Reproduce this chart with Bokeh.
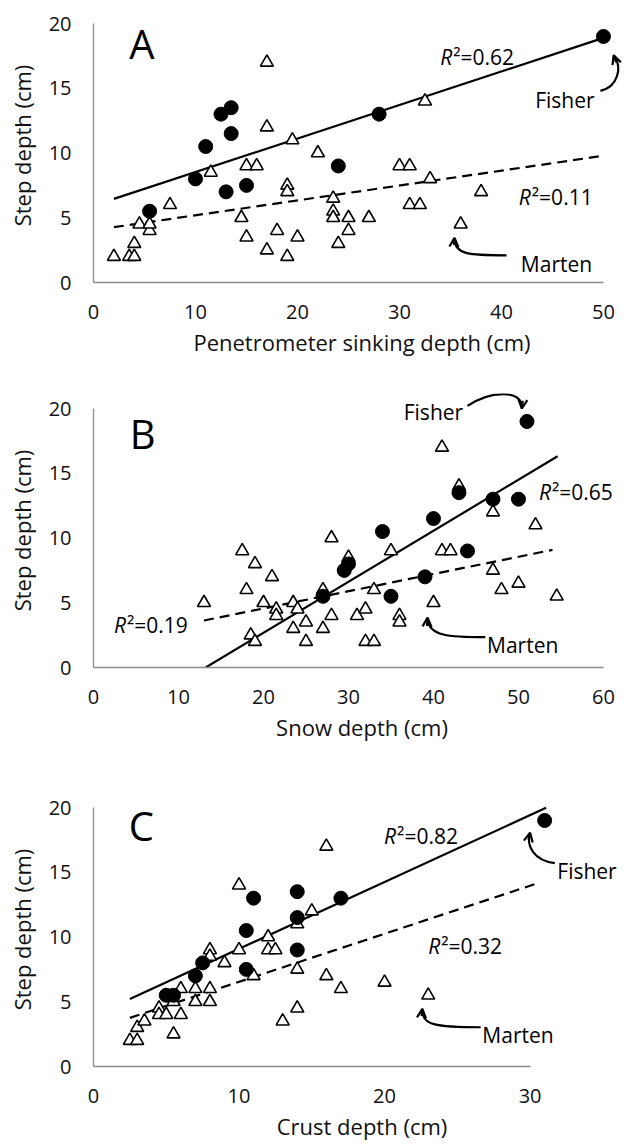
from bokeh.plotting import figure
from bokeh.layouts import column
from bokeh.models import Range1d, FixedTicker, Label, Arrow, OpenHead
from bokeh.embed import file_html
from bokeh.resources import INLINE

FONT = "Open Sans"

# ---------------- Panel A: penetrometer sinking depth ----------------
a_marten_x = [2, 3.5, 4, 4, 4.5, 5.5, 5.5, 7.5, 11.5, 14.5, 15, 15, 16, 17, 17, 17, 18, 19, 19, 19,
              19.5, 20, 22, 23.5, 23.5, 23.5, 24, 25, 25, 27, 30, 31, 31, 32, 32.5, 33, 36, 38]
a_marten_y = [2, 2, 2, 3, 4.5, 4, 4.5, 6, 8.5, 5, 3.5, 9, 9, 17, 12, 2.5, 4, 7.5, 7, 2,
              11, 3.5, 10, 6.5, 5.5, 5, 3, 5, 4, 5, 9, 9, 6, 6, 14, 8, 4.5, 7]
a_fisher_x = [5.5, 10, 11, 12.5, 13.5, 13.5, 13, 15, 24, 28, 50]
a_fisher_y = [5.5, 8, 10.5, 13, 13.5, 11.5, 7, 7.5, 9, 13, 19]
a_fit = {"fisher": (5.94, 0.259, 2, 50), "marten": (4.04, 0.115, 2, 50)}
a_r2 = {"fisher": "0.62", "marten": "0.11"}

# ---------------- Panel B: snow depth ----------------
b_marten_x = [13, 17.5, 19, 18, 18.5, 19, 20, 21, 21.5, 21.5, 23.5, 23.5, 24, 25, 25, 27, 28, 27, 28,
              30, 31, 32, 32, 33, 33, 35, 36, 36, 40, 41, 41, 42, 43, 47, 47, 48, 50, 52, 54.5]
b_marten_y = [5, 9, 8, 6, 2.5, 2, 5, 7, 4.5, 4, 5, 3, 4.5, 3.5, 2, 3, 4, 6, 10,
              8.5, 4, 4.5, 2, 2, 6, 9, 4, 3.5, 5, 17, 9, 9, 14, 12, 7.5, 6, 6.5, 11, 5.5]
b_fisher_x = [27, 29.5, 30, 34, 35, 39, 40, 43, 44, 47, 50, 51]
b_fisher_y = [5.5, 7.5, 8, 10.5, 5.5, 7, 11.5, 13.5, 9, 13, 13, 19]
b_fit = {"fisher": (-5.2, 0.394, 13.2, 54.6), "marten": (1.9, 0.133, 13, 54)}
b_r2 = {"fisher": "0.65", "marten": "0.19"}

# ---------------- Panel C: crust depth ----------------
c_marten_x = [2.5, 3, 3, 3.5, 4.5, 4.5, 5, 5.5, 5.5, 6, 6, 7, 7, 8, 8, 8, 8, 9, 10, 10, 11,
              12, 12, 12.5, 13, 14, 14, 14, 15, 16, 16, 17, 20, 23]
c_marten_y = [2, 2, 3, 3.5, 4.5, 4, 4, 2.5, 5, 4, 6, 5, 6, 5, 6, 9, 8.5, 8, 14, 9, 7,
              10, 9, 9, 3.5, 4.5, 7.5, 11, 12, 17, 7, 6, 6.5, 5.5]
c_fisher_x = [5, 5.5, 7, 7.5, 10.5, 10.5, 11, 14, 14, 14, 17, 31]
c_fisher_y = [5.5, 5.5, 7, 8, 10.5, 7.5, 13, 13.5, 11.5, 9, 13, 19]
c_fit = {"fisher": (3.93, 0.516, 2.5, 31.1), "marten": (2.83, 0.371, 2.5, 30.4)}
c_r2 = {"fisher": "0.82", "marten": "0.32"}

y_ticks = [0, 5, 10, 15, 20]


def make_panel(letter, xlabel, x_ticks, x_end, height, top, mx, my, fx, fy, fit, r2, notes, arrows):
    x_max = x_ticks[-1]
    p = figure(width=630, height=height, output_backend="svg", toolbar_location=None,
               x_range=Range1d(0, x_end), y_range=Range1d(0, 21.16),
               min_border_left=93, min_border_right=0, min_border_top=top,
               min_border_bottom=height - 274 - top)
    p.outline_line_color = None
    p.grid.visible = False
    p.background_fill_color = "white"
    p.border_fill_color = "white"
    for ax, ticks, lab, bnd in ((p.xaxis[0], x_ticks, xlabel, (0, x_max)),
                                (p.yaxis[0], y_ticks, "Step depth (cm)", (0, 20))):
        ax.ticker = FixedTicker(ticks=ticks)
        ax.bounds = bnd
        ax.axis_line_color = "#8c8c8c"
        ax.axis_line_width = 1.3
        ax.major_tick_line_color = None
        ax.minor_tick_line_color = None
        ax.major_tick_out = 0
        ax.major_tick_in = 0
        ax.major_label_text_font = FONT
        ax.major_label_text_font_size = "20px"
        ax.major_label_text_color = "#111111"
        ax.axis_label = lab
        ax.axis_label_text_font = FONT
        ax.axis_label_text_font_size = "22px"
        ax.axis_label_text_font_style = "normal"
        ax.axis_label_text_color = "#111111"
    p.xaxis.major_label_standoff = 22
    p.xaxis.axis_label_standoff = 5
    p.yaxis.major_label_standoff = 22
    p.yaxis.axis_label_standoff = 9

    # regression lines
    for key, dash in (("fisher", "solid"), ("marten", "10 6")):
        a, b, x0, x1 = fit[key]
        p.line([x0, x1], [a + b * x0, a + b * x1], line_color="black", line_width=2.2, line_dash=dash)

    p.scatter(mx, my, marker="triangle", size=13, fill_color="white", line_color="black", line_width=1.6)
    p.scatter(fx, fy, marker="circle", size=14, fill_color="black", line_color="black")

    # panel letter
    p.add_layout(Label(x=letter[1], y=letter[2], text=letter[0], text_font=FONT, text_font_size="40px",
                       text_baseline="alphabetic", text_align="left", text_color="black"))
    # R^2 labels
    for key in ("fisher", "marten"):
        x, y = notes["r2_" + key]
        p.add_layout(Label(x=x, y=y, text="R", text_font=FONT, text_font_size="21px",
                           text_font_style="italic", text_baseline="alphabetic", text_color="black"))
        p.add_layout(Label(x=x, y=y, x_offset=13, text="²=" + r2[key], text_font=FONT,
                           text_font_size="21px", text_baseline="alphabetic", text_color="black"))
    for name in ("Fisher", "Marten"):
        x, y = notes[name]
        p.add_layout(Label(x=x, y=y, text=name, text_font=FONT, text_font_size="21px",
                           text_baseline="alphabetic", text_color="black"))
    # curved arrows
    for (x0, y0, cx0, cy0, cx1, cy1, x1, y1, hx, hy) in arrows:
        p.bezier(x0=[x0], y0=[y0], cx0=[cx0], cy0=[cy0], cx1=[cx1], cy1=[cy1], x1=[x1], y1=[y1],
                 line_color="black", line_width=2.2)
        p.add_layout(Arrow(end=OpenHead(size=9, line_width=2.2, line_color="black"),
                           x_start=hx, y_start=hy, x_end=x1, y_end=y1,
                           line_color="black", line_width=2.2))
    return p


pA = make_panel(("A", 3.5, 18.43), "Penetrometer sinking depth (cm)", [0, 10, 20, 30, 40, 50], 52.65, 393, 8,
                a_marten_x, a_marten_y, a_fisher_x, a_fisher_y, a_fit, a_r2,
                {"r2_fisher": (34.0, 17.4), "r2_marten": (41.7, 6.6),
                 "Fisher": (43.3, 14.1), "Marten": (41.9, 1.45)},
                [(49.7, 14.8, 51.4, 15.1, 51.9, 16.6, 51.0, 17.55, 51.25, 17.0),
                 (40.5, 2.1, 37.0, 2.1, 35.3, 2.1, 35.4, 3.45, 35.35, 2.9)])

pB = make_panel(("B", 4.27, 18.05), "Snow depth (cm)", [0, 10, 20, 30, 40, 50, 60], 63.18, 399, 0,
                b_marten_x, b_marten_y, b_fisher_x, b_fisher_y, b_fit, b_r2,
                {"r2_fisher": (52.4, 13.55), "r2_marten": (2.4, 3.25),
                 "Fisher": (36.5, 19.7), "Marten": (46.3, 1.7)},
                [(44.0, 20.2, 46.5, 21.3, 50.5, 21.6, 50.4, 20.0, 50.5, 20.6),
                 (46.1, 2.34, 42.0, 2.34, 39.3, 2.4, 39.3, 3.85, 39.25, 3.2)])

pC = make_panel(("C", 2.42, 18.58), "Crust depth (cm)", [0, 10, 20, 30], 36.9, 356, 0,
                c_marten_x, c_marten_y, c_fisher_x, c_fisher_y, c_fit, c_r2,
                {"r2_fisher": (19.97, 17.8), "r2_marten": (23.0, 9.33),
                 "Fisher": (31.87, 15.1), "Marten": (26.72, 2.4)},
                [(31.7, 15.7, 30.3, 15.9, 29.7, 17.0, 30.0, 18.05, 29.9, 17.5),
                 (26.6, 3.03, 23.5, 3.03, 22.5, 3.2, 22.6, 4.45, 22.55, 3.9)])

layout = column(pA, pB, pC, spacing=0)
open("out.html", "w").write(file_html(layout, INLINE))
